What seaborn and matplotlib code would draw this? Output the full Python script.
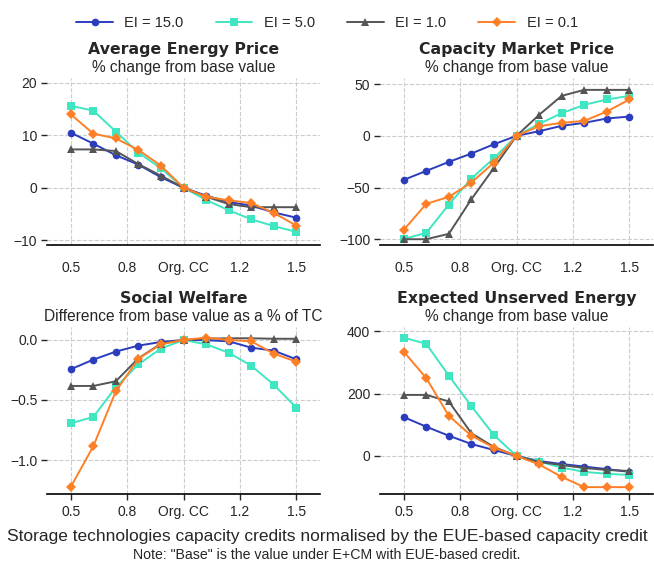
import numpy as np
import pandas as pd
import matplotlib.pyplot as plt
import seaborn as sns

# 1. DATA
cc_ratio = [0.5, 0.6, 0.7, 0.8, 0.9, 1.0, 1.1, 1.2, 1.3, 1.4, 1.5]
ei_labels = ['EI = 15.0', 'EI = 5.0', 'EI = 1.0', 'EI = 0.1']

price_ei15 = [10.5, 8.4, 6.2, 4.4, 2.0, 0.0, -1.5, -2.7, -3.4, -4.7, -5.7]
price_ei5 = [15.6, 14.7, 10.7, 6.7, 3.7, 0.0, -2.3, -4.3, -6.0, -7.3, -8.4]
price_ei1 = [7.3, 7.3, 7.0, 4.5, 2.3, 0.0, -1.7, -3.1, -3.7, -3.7, -3.7]
price_ei01 = [14.0, 10.3, 9.4, 7.2, 4.2, 0.0, -1.7, -2.4, -2.9, -4.8, -7.2]

cm_ei15 = [-42.6, -33.9, -25.2, -17.1, -8.1, 0.0, 4.5, 9.7, 12.6, 16.8, 18.7]
cm_ei5 = [-99.7, -93.9, -66.5, -41.3, -21.6, 0.0, 11.6, 21.9, 30.0, 35.2, 38.7]
cm_ei1 = [-100.0, -100.0, -94.8, -61.3, -31.0, 0.0, 20.3, 38.7, 44.5, 44.5, 44.5]
cm_ei01 = [-91.0, -65.8, -59.0, -45.2, -25.8, 0.0, 9.4, 12.6, 14.5, 23.5, 35.2]

sw_ei15 = [-0.244, -0.164, -0.097, -0.047, -0.017, 0.0, -0.002, -0.011, -0.064, -0.089, -0.161]
sw_ei5 = [-0.694, -0.642, -0.394, -0.203, -0.072, 0.0, -0.036, -0.106, -0.214, -0.372, -0.564]
sw_ei1 = [-0.383, -0.383, -0.344, -0.153, -0.031, 0.0, 0.011, 0.014, 0.014, 0.01, 0.01]
sw_ei01 = [-1.225, -0.886, -0.428, -0.156, -0.036, 0.0, 0.019, 0.0, -0.011, -0.114, -0.181]

eue_ei15 = [125, 94, 65, 38.5, 19, 0, -16, -25.7, -34, -42, -51]
eue_ei5 = [380, 360, 258, 160, 67, 0, -18, -37, -51, -57, -61]
eue_ei1 = [196, 196, 175, 73, 29, 0, -19, -29, -38.5, -45, -48]
eue_ei01 = [335, 250, 129, 65, 27, 0, -27, -67, -100, -100, -100]

panels = [
    ('Average Energy Price', '% change from base value',
     [price_ei15, price_ei5, price_ei1, price_ei01], (-10.9, 20.9), [-10, 0, 10, 20]),
    ('Capacity Market Price', '% change from base value',
     [cm_ei15, cm_ei5, cm_ei1, cm_ei01], (-105.6, 56), [-100, -50, 0, 50]),
    ('Social Welfare', 'Difference from base value as a % of TC',
     [sw_ei15, sw_ei5, sw_ei1, sw_ei01], (-1.283, 0.108), [-1.0, -0.5, 0.0]),
    ('Expected Unserved Energy', '% change from base value',
     [eue_ei15, eue_ei5, eue_ei1, eue_ei01], (-122, 414), [0, 200, 400]),
]

colors = ['#2b3dbd', '#3fe6c2', '#555555', '#ff7f27']
markers = ['o', 's', '^', 'D']

# 2. STYLE
sns.set_style('white')
plt.rcParams['font.family'] = ['Liberation Sans', 'DejaVu Sans']

fig = plt.figure(figsize=(6.54, 5.63), dpi=100)
lefts = [47 / 654, 380 / 654]
bottoms = [1 - 245 / 563, 1 - 494 / 563]
w, h = 273 / 654, 167 / 563

# 3. PANELS
for i, (title, subtitle, series, ylim, yticks) in enumerate(panels):
    ax = fig.add_axes([lefts[i % 2], bottoms[i // 2], w, h])
    rows = []
    for lab, vals in zip(ei_labels, series):
        for x, v in zip(cc_ratio, vals):
            rows.append({'cc': x, 'value': v, 'EI': lab})
    df = pd.DataFrame(rows)
    sns.lineplot(data=df, x='cc', y='value', hue='EI', style='EI',
                 palette=colors, markers=markers, dashes=False,
                 markersize=5.5, linewidth=1.4, markeredgewidth=0,
                 ax=ax, legend=(i == 0))
    ax.set_xlim(0.395, 1.605)
    ax.set_ylim(*ylim)
    ax.set_yticks(yticks)
    ax.set_xticks([0.5, 0.75, 1.0, 1.25, 1.5])
    ax.set_xticklabels(['0.5', '0.8', 'Org. CC', '1.2', '1.5'])
    ax.set_xlabel('')
    ax.set_ylabel('')
    ax.grid(True, linestyle='--', color='#cccccc', linewidth=0.8)
    for s in ['top', 'right', 'left']:
        ax.spines[s].set_visible(False)
    ax.spines['bottom'].set_color('black')
    ax.spines['bottom'].set_linewidth(1.2)
    ax.tick_params(axis='y', left=True, length=4, width=1, labelsize=10, pad=3)
    if i // 2 == 1:
        ax.tick_params(axis='x', bottom=True, length=4, width=1, labelsize=10, pad=4)
    else:
        ax.tick_params(axis='x', bottom=False, labelsize=10, pad=8)
    ax.set_title(subtitle, fontsize=11.2, pad=4)
    ax.text(0.5, 1.125, title, transform=ax.transAxes, ha='center', va='bottom',
            fontsize=11.3, fontweight='bold', family='DejaVu Sans')
    if i == 0:
        handles, labels = ax.get_legend_handles_labels()
        ax.get_legend().remove()

fig.legend(handles, labels, loc='upper center', bbox_to_anchor=(0.5, 0.995),
           ncol=4, frameon=False, fontsize=10.5, handlelength=2.5,
           columnspacing=2.2)

fig.text(0.5, 1 - 536 / 563, 'Storage technologies capacity credits normalised by the EUE-based capacity credit',
         ha='center', va='center', fontsize=12.5)
fig.text(0.5, 1 - 555 / 563, 'Note: "Base" is the value under E+CM with EUE-based credit.',
         ha='center', va='center', fontsize=10.2)

fig.savefig('out.png', dpi=100)
